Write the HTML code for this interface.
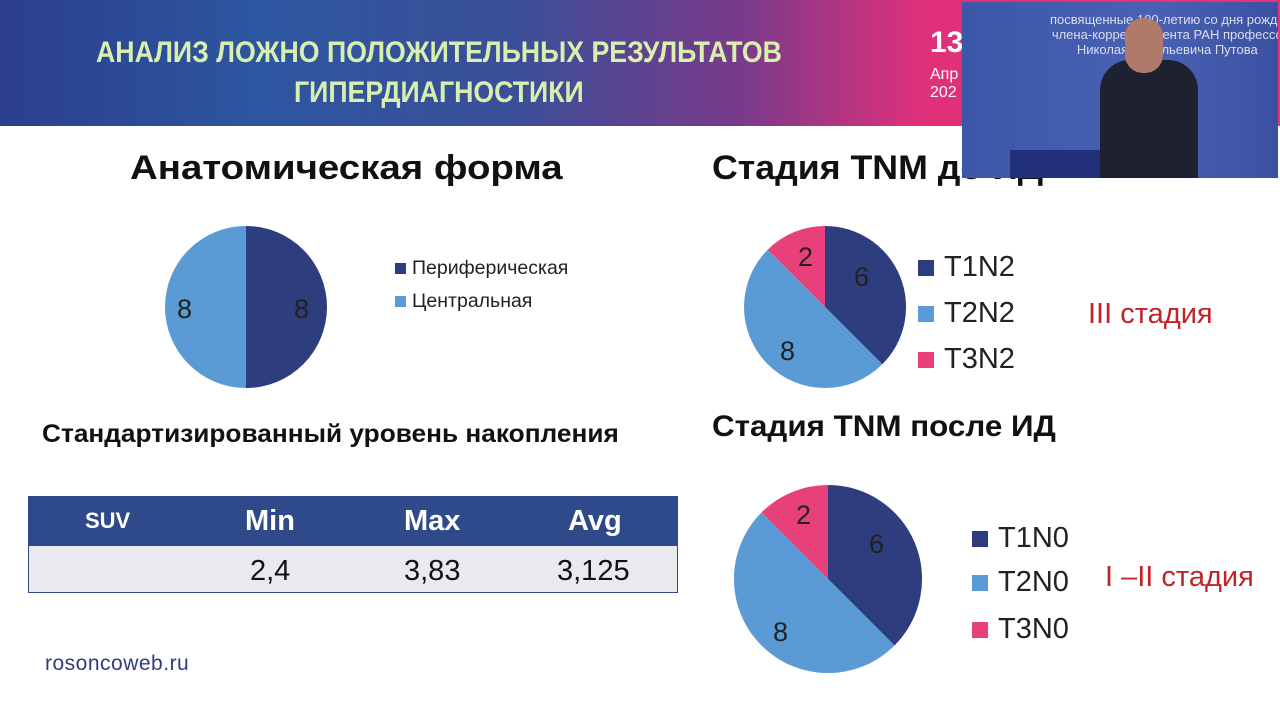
<!DOCTYPE html>
<html><head><meta charset="utf-8"><style>
body{margin:0;width:1280px;height:720px;overflow:hidden;background:#fff;font-family:"Liberation Sans",sans-serif;position:relative}
.a{position:absolute;white-space:nowrap}
.banner{left:0;top:0;width:1280px;height:126px;background:linear-gradient(90deg,#2c3f8c 0%,#2d56a0 20%,#3a4f98 40%,#7a3a8a 58%,#e0307a 72%,#e8327a 100%)}
.t{color:#d8efb0;font-family:"Liberation Sans Narrow","Liberation Sans",sans-serif;font-weight:bold;font-size:30px;transform:scaleX(0.89);transform-origin:left}
.h{font-weight:bold;color:#111;font-size:34px}
.lg{font-size:19.5px;color:#222}
.sq{display:inline-block;width:11px;height:11px;margin-right:6px}
.lg2{font-size:29px;color:#222}
.sq2{display:inline-block;width:16px;height:16px;margin-right:10px}
.red{color:#c0242a;font-size:29px}
</style></head><body>
<div class="a banner"></div>
<div class="a t" style="left:96px;top:36px">АНАЛИЗ ЛОЖНО ПОЛОЖИТЕЛЬНЫХ РЕЗУЛЬТАТОВ</div>
<div class="a t" style="left:294px;top:76px">ГИПЕРДИАГНОСТИКИ</div>
<div class="a" style="left:930px;top:26px;color:#fff;font-weight:bold;font-size:30px">13</div>
<div class="a" style="left:930px;top:66px;color:#fff;font-size:16px">Апр<br>202</div>

<div class="a h" style="left:130px;top:149px;transform:scaleX(1.13);transform-origin:left">Анатомическая форма</div>
<div class="a h" style="left:712px;top:149px;transform:scaleX(1.05);transform-origin:left">Стадия TNM до ИД</div>

<div class="a" style="left:962px;top:2px;width:316px;height:176px;overflow:hidden;background:linear-gradient(90deg,#3c56a8,#4a62b4 60%,#3b50a0);z-index:1">
<div class="a" style="left:88px;top:10px;color:#dde;font-size:13px;text-align:center;line-height:15px">посвященные 100-летию со дня рожде<br>члена-корреспондента РАН профессо<br>Николая Васильевича Путова</div>
<div class="a" style="left:48px;top:148px;width:110px;height:28px;background:#23307a"></div>
<div class="a" style="left:138px;top:58px;width:98px;height:118px;background:#1e2230;border-radius:30px 30px 0 0"></div>
<div class="a" style="left:163px;top:16px;width:38px;height:55px;background:#b07a6a;border-radius:18px"></div>
</div>

<svg class="a" style="left:0;top:0" width="1280" height="720">
<path d="M246,226 A81,81 0 0 1 246,388 Z" fill="#2e3d7e"/>
<path d="M246,226 A81,81 0 0 0 246,388 Z" fill="#5b9bd5"/>
<path d="M825,226 A81,81 0 0 1 882.3,364.3 L825,307Z" fill="#2e3d7e"/>
<path d="M882.3,364.3 A81,81 0 0 1 767.7,249.7 L825,307Z" fill="#5b9bd5"/>
<path d="M767.7,249.7 A81,81 0 0 1 825,226 L825,307Z" fill="#e8407a"/>
<path d="M828,485 A94,94 0 0 1 894.5,645.5 L828,579Z" fill="#2e3d7e"/>
<path d="M894.5,645.5 A94,94 0 0 1 761.5,512.5 L828,579Z" fill="#5b9bd5"/>
<path d="M761.5,512.5 A94,94 0 0 1 828,485 L828,579Z" fill="#e8407a"/>
<g font-family="Liberation Sans" font-size="27" fill="#222">
<text x="177" y="318">8</text><text x="294" y="318">8</text>
<text x="854" y="286">6</text><text x="798" y="266">2</text><text x="780" y="360">8</text>
<text x="869" y="553">6</text><text x="796" y="524">2</text><text x="773" y="641">8</text>
</g>
</svg>
<div class="a lg" style="left:395px;top:257px"><span class="sq" style="background:#2e3d7e"></span>Периферическая</div>
<div class="a lg" style="left:395px;top:290px"><span class="sq" style="background:#5b9bd5"></span>Центральная</div>

<div class="a lg2" style="left:918px;top:251px"><span class="sq2" style="background:#2e3d7e"></span>T1N2</div>
<div class="a lg2" style="left:918px;top:297px"><span class="sq2" style="background:#5b9bd5"></span>T2N2</div>
<div class="a lg2" style="left:918px;top:343px"><span class="sq2" style="background:#e8407a"></span>T3N2</div>
<div class="a red" style="left:1088px;top:298px">III стадия</div>

<div class="a" style="left:712px;top:410px;font-weight:bold;font-size:30px;color:#111;transform:scaleX(1.045);transform-origin:left">Стадия TNM после ИД</div>
<div class="a lg2" style="left:972px;top:522px"><span class="sq2" style="background:#2e3d7e"></span>T1N0</div>
<div class="a lg2" style="left:972px;top:566px"><span class="sq2" style="background:#5b9bd5"></span>T2N0</div>
<div class="a lg2" style="left:972px;top:613px"><span class="sq2" style="background:#e8407a"></span>T3N0</div>
<div class="a red" style="left:1105px;top:561px">I –II стадия</div>

<div class="a" style="left:42px;top:420px;font-weight:bold;font-size:25px;color:#111;transform:scaleX(1.05);transform-origin:left">Стандартизированный уровень накопления</div>

<div class="a" style="left:28px;top:496px;width:650px;height:50px;background:#2e4a8a"></div>
<div class="a" style="left:28px;top:546px;width:648px;height:46px;background:#e9e9f0;border:1px solid #2e4a8a;border-top:none"></div>
<div class="a" style="left:85px;top:508px;color:#fff;font-weight:bold;font-size:22px">SUV</div>
<div class="a" style="left:245px;top:505px;color:#fff;font-weight:bold;font-size:29px">Min</div>
<div class="a" style="left:404px;top:505px;color:#fff;font-weight:bold;font-size:29px">Max</div>
<div class="a" style="left:568px;top:505px;color:#fff;font-weight:bold;font-size:29px">Avg</div>
<div class="a" style="left:250px;top:555px;color:#111;font-size:29px">2,4</div>
<div class="a" style="left:404px;top:555px;color:#111;font-size:29px">3,83</div>
<div class="a" style="left:557px;top:555px;color:#111;font-size:29px">3,125</div>

<div class="a" style="left:45px;top:652px;color:#2e3d7e;font-size:21px;letter-spacing:0.5px">rosoncoweb.ru</div>
</body></html>
